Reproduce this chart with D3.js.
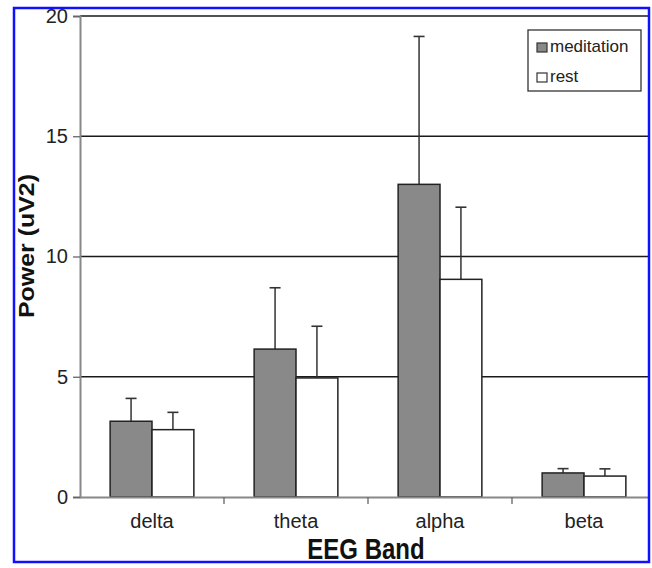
<!DOCTYPE html>
<html><head><meta charset="utf-8">
<script src="https://cdn.jsdelivr.net/npm/d3@7"></script>
<style>body{margin:0;background:#fff}svg{display:block}</style>
</head><body>
<svg id="c" width="652" height="568"></svg>
<script>
const categories = ["delta", "theta", "alpha", "beta"];
const seriesNames = ["meditation", "rest"];
const meditation = [3.15, 6.15, 13.0, 1.0];
const meditationErr = [0.95, 2.55, 6.15, 0.18];
const rest = [2.8, 4.95, 9.05, 0.87];
const restErr = [0.72, 2.15, 3.0, 0.3];
const yTicks = [0, 5, 10, 15, 20];

(function () {
const svg = d3.select("#c");
const font = "'Liberation Sans', Arial, sans-serif";
const mLeft = 80, mRight = 656, mTop = 16, mBottom = 497;
const fills = {meditation: "#898989", rest: "#ffffff"};

svg.append("defs").append("clipPath").attr("id", "fr")
  .append("rect").attr("x", 14).attr("y", 8).attr("width", 635).attr("height", 554);
const g = svg.append("g").attr("clip-path", "url(#fr)");

const x = d3.scaleBand().domain(categories).range([mLeft, mRight]).paddingInner(0).paddingOuter(0);
const xs = d3.scaleBand().domain(seriesNames).range([0, x.bandwidth()]).paddingInner(0).paddingOuter(0.72);
const y = d3.scaleLinear().domain([0, 20]).range([mBottom, mTop]);

// gridlines
g.append("g").selectAll("line").data(yTicks.filter(t => t > 0)).join("line")
  .attr("x1", mLeft).attr("x2", mRight)
  .attr("y1", d => y(d)).attr("y2", d => y(d))
  .attr("stroke", "#1a1a1a").attr("stroke-width", 1.3);

const data = [];
categories.forEach((c, i) => {
  data.push({cat: c, s: "meditation", v: meditation[i], e: meditationErr[i]});
  data.push({cat: c, s: "rest", v: rest[i], e: restErr[i]});
});

// error bars
const eb = g.append("g");
data.forEach(d => {
  const cx = x(d.cat) + xs(d.s) + xs.bandwidth() / 2;
  eb.append("line").attr("x1", cx).attr("x2", cx).attr("y1", y(d.v)).attr("y2", y(d.v + d.e))
    .attr("stroke", "#333").attr("stroke-width", 1.5);
  eb.append("line").attr("x1", cx - 5.5).attr("x2", cx + 5.5).attr("y1", y(d.v + d.e)).attr("y2", y(d.v + d.e))
    .attr("stroke", "#333").attr("stroke-width", 1.6);
});

// bars
g.append("g").selectAll("rect").data(data).join("rect")
  .attr("x", d => x(d.cat) + xs(d.s))
  .attr("width", xs.bandwidth())
  .attr("y", d => y(d.v))
  .attr("height", d => y(0) - y(d.v))
  .attr("fill", d => fills[d.s])
  .attr("stroke", "#222").attr("stroke-width", 1.5);

// y axis
const ya = g.append("g").attr("transform", `translate(${mLeft},0)`)
  .call(d3.axisLeft(y).tickValues(yTicks).tickSize(7).tickPadding(5));
ya.select(".domain").attr("stroke", "#888").attr("stroke-width", 2);
ya.selectAll(".tick line").attr("stroke", "#666").attr("stroke-width", 1.3);
ya.selectAll("text").attr("font-family", font).attr("font-size", 20).attr("fill", "#222");

// x axis
const xa = g.append("g").attr("transform", `translate(0,${mBottom})`)
  .call(d3.axisBottom(x).tickSize(0).tickPadding(17));
xa.select(".domain").attr("stroke", "#888").attr("stroke-width", 2);
xa.selectAll("text").attr("font-family", font).attr("font-size", 20).attr("fill", "#222");
xa.append("g").selectAll("line").data(categories.slice(1)).join("line")
  .attr("x1", d => x(d)).attr("x2", d => x(d)).attr("y1", 0).attr("y2", 7)
  .attr("stroke", "#666").attr("stroke-width", 1.3);

// axis titles
g.append("text").attr("transform", "translate(34,246) rotate(-90)")
  .attr("text-anchor", "middle").attr("font-family", font).attr("font-weight", "bold")
  .attr("font-size", 22).attr("fill", "#111")
  .attr("textLength", 144).attr("lengthAdjust", "spacingAndGlyphs").text("Power (uV2)");
g.append("text").attr("transform", "translate(366,559) scale(1,1.22)")
  .attr("text-anchor", "middle").attr("font-family", font).attr("font-weight", "bold")
  .attr("font-size", 24).attr("fill", "#111").text("EEG Band");

// legend
const lg = g.append("g");
lg.append("rect").attr("x", 528).attr("y", 30).attr("width", 113).attr("height", 61)
  .attr("fill", "#fff").attr("stroke", "#333").attr("stroke-width", 1.3);
seriesNames.forEach((s, i) => {
  const yy = 52 + i * 30;
  lg.append("rect").attr("x", 537).attr("y", yy - 9).attr("width", 10).attr("height", 9)
    .attr("fill", fills[s]).attr("stroke", "#333").attr("stroke-width", 1.2);
  lg.append("text").attr("x", 550).attr("y", yy).attr("font-family", font)
    .attr("font-size", 17).attr("fill", "#222").text(s);
});

// frame
svg.append("rect").attr("x", 14).attr("y", 8).attr("width", 635).attr("height", 554)
  .attr("fill", "none").attr("stroke", "#1010ff").attr("stroke-width", 2.5);
})();
</script>
</body></html>
